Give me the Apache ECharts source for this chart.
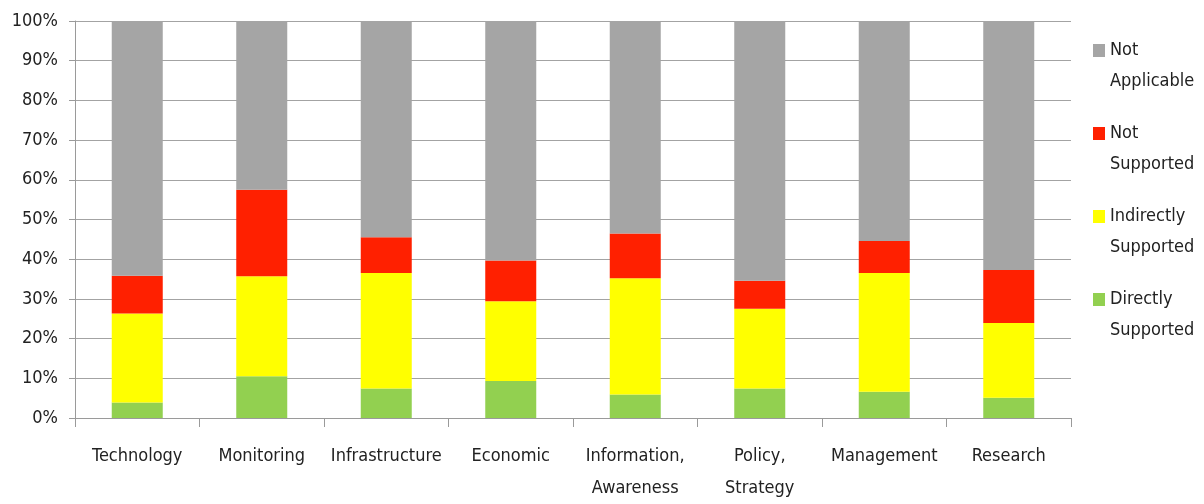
<!DOCTYPE html>
<html>
<head>
<meta charset="utf-8">
<script src="https://cdn.jsdelivr.net/npm/echarts@6/dist/echarts.min.js"></script>
<style>html,body{margin:0;padding:0;background:#fff;}#c{width:1204px;height:504px;}</style>
</head>
<body>
<div id="c"></div>
<script>
var categories = ['Technology','Monitoring','Infrastructure','Economic','Information, Awareness','Policy, Strategy','Management','Research'];
var directlySupported   = [3.9, 10.5, 7.4, 9.3, 5.9, 7.4, 6.6, 5.1];
var indirectlySupported = [22.4, 25.2, 29.1, 20.1, 29.3, 20.1, 29.9, 18.8];
var notSupported        = [9.5, 21.8, 9.0, 10.3, 11.3, 7.1, 8.1, 13.4];
var notApplicable       = [64.2, 42.5, 54.5, 60.3, 53.5, 65.4, 55.4, 62.7];
var legendLabels = {
  'Not Applicable': 'Not\nApplicable',
  'Not Supported': 'Not\nSupported',
  'Indirectly Supported': 'Indirectly\nSupported',
  'Directly Supported': 'Directly\nSupported'
};

var FONT = '"DejaVu Sans Condensed", "Liberation Sans Narrow", "Open Sans", sans-serif';
var chart = echarts.init(document.getElementById('c'), null, {renderer: 'canvas'});
function s(name, data, color) {
  return {name: name, type: 'bar', stack: 'total', data: data, barWidth: 51,
    itemStyle: {color: color}, emphasis: {disabled: true}};
}
chart.setOption({
  animation: false,
  backgroundColor: '#ffffff',
  textStyle: {fontFamily: FONT},
  grid: {left: 75, right: 133, top: 21, bottom: 81, containLabel: false},
  legend: {
    orient: 'vertical', left: 1093, top: 4, padding: 0,
    itemWidth: 12, itemHeight: 13, itemGap: -10,
    icon: 'rect',
    data: ['Not Applicable','Not Supported','Indirectly Supported','Directly Supported'],
    formatter: function (n) { return '\n' + legendLabels[n]; },
    textStyle: {fontFamily: FONT, fontSize: 18, color: '#222', lineHeight: 31}
  },
  xAxis: {
    type: 'category', data: categories,
    axisLine: {show: true, lineStyle: {color: '#9a9a9a', width: 1}},
    axisTick: {show: true, length: 9, lineStyle: {color: '#9a9a9a'}},
    axisLabel: {interval: 0, margin: 22, fontFamily: FONT, fontSize: 18, color: '#222', lineHeight: 32,
      formatter: function (v) { return v.replace(', ', ',\n'); }}
  },
  yAxis: {
    type: 'value', min: 0, max: 100, interval: 10,
    axisLine: {show: true, lineStyle: {color: '#9a9a9a', width: 1}},
    axisTick: {show: true, length: 6, lineStyle: {color: '#9a9a9a'}},
    splitLine: {show: true, lineStyle: {color: '#a3a3a3', width: 1}},
    axisLabel: {margin: 17, fontFamily: FONT, fontSize: 18, color: '#222', formatter: '{value}%'}
  },
  series: [
    s('Directly Supported', directlySupported, '#92d050'),
    s('Indirectly Supported', indirectlySupported, '#ffff00'),
    s('Not Supported', notSupported, '#ff2000'),
    s('Not Applicable', notApplicable, '#a5a5a5')
  ]
});
</script>
</body>
</html>
